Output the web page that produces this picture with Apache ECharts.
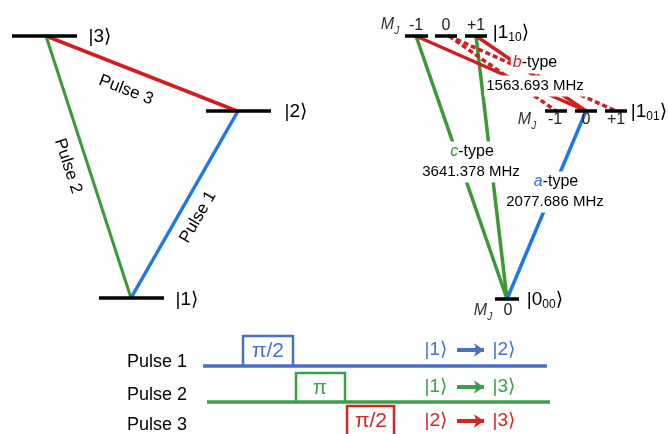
<!DOCTYPE html>
<html>
<head>
<meta charset="utf-8">
<script src="https://cdn.jsdelivr.net/npm/echarts@6/dist/echarts.min.js"></script>
<style>
  html, body { margin: 0; padding: 0; background: #fff; }
  #chart { width: 668px; height: 434px; }
</style>
</head>
<body>
<div id="chart"></div>
<script>
// Scheme coordinates: x grows right, y grows down.

// Three-level scheme (left): energy bars [xStart, xEnd, y]
const threeLevelBars = [[12, 77, 36], [206, 271, 111], [99, 164, 298]];
// Pulse transitions between the levels: [x1, y1, x2, y2]
const pulse3Link = [46, 36, 237, 111];
const pulse2Link = [46, 36, 131, 298];
const pulse1Link = [131, 298, 238, 111];

// Rotational levels (right) with M_J sublevels
const upperBars = [[405, 428, 36], [435, 457, 36], [465, 487, 36]];   // |1_10>, MJ = -1, 0, +1
const lowerBars = [[545, 567, 111], [575, 597, 111], [605, 627, 111]]; // |1_01>, MJ = -1, 0, +1
const groundBars = [[495, 519, 299]];                                  // |0_00>, MJ = 0
const cTypeLinks = [[507, 299, 416, 36], [507, 299, 476, 36]];
const aTypeLinks = [[507, 299, 586, 111]];
const bTypeSolid = [[416, 36, 586, 111], [476, 36, 586, 111]];
const bTypeDashed = [[449, 36, 556, 111], [449, 36, 616, 111]];

// Pulse sequence (bottom)
const pulse1Base = [[203, 366], [547, 366]];
const pulse2Base = [[207, 402], [550, 402]];
const pulse1Box = [[243, 366], [243, 336], [293, 336], [293, 366]];
const pulse2Box = [[296, 402], [296, 373], [345, 373], [345, 402]];
const pulse3Box = [[347, 434], [347, 406], [394, 406], [394, 434]];
const arrows = [[457, 350, 484, 350], [457, 387, 484, 387], [457, 421, 484, 421]];

// Text items: [x, y, rich text, rotation]
const textItems = [
  [100, 37, '{k|\u007C3\u27E9}', 0],
  [296, 112, '{k|\u007C2\u27E9}', 0],
  [187, 300, '{k|\u007C1\u27E9}', 0],
  [126, 90, '{p|Pulse 3}', -21],
  [68, 166, '{p|Pulse 2}', -72],
  [198, 217, '{p|Pulse 1}', 60],

  [390, 25, '{m|M}{mj|J}', 0],
  [416, 26, '{n|-1}', 0],
  [446, 26, '{n|0}', 0],
  [476, 26, '{n|+1}', 0],
  [511, 33, '{k|\u007C1}{ks|10}{k|\u27E9}', 0],
  [527, 120, '{m|M}{mj|J}', 0],
  [555, 120, '{n|-1}', 0],
  [586, 120, '{n|0}', 0],
  [616, 120, '{n|+1}', 0],
  [649, 112, '{k|\u007C1}{ks|01}{k|\u27E9}', 0],
  [483, 311, '{m|M}{mj|J}', 0],
  [508, 311, '{n|0}', 0],
  [545, 300, '{k|\u007C0}{ks|00}{k|\u27E9}', 0],

  [535, 63, '{bi|b}{t|-type}', 0],
  [535, 86, '{f|1563.693 MHz}', 0],
  [472, 152, '{ci|c}{t|-type}', 0],
  [471, 172, '{f|3641.378 MHz}', 0],
  [556, 182, '{ai|a}{t|-type}', 0],
  [555, 202, '{f|2077.686 MHz}', 0],

  [157, 362, '{pl|Pulse 1}', 0],
  [157, 395, '{pl|Pulse 2}', 0],
  [157, 425, '{pl|Pulse 3}', 0],
  [268, 351, '{pb|\u03C0/2}', 0],
  [320, 388, '{pg|\u03C0}', 0],
  [371, 421, '{pr|\u03C0/2}', 0],
  [436, 350, '{kb|\u007C1\u27E9}', 0],
  [504, 350, '{kb|\u007C2\u27E9}', 0],
  [436, 387, '{kg|\u007C1\u27E9}', 0],
  [504, 387, '{kg|\u007C3\u27E9}', 0],
  [436, 421, '{kr|\u007C2\u27E9}', 0],
  [504, 421, '{kr|\u007C3\u27E9}', 0]
];

const RED = '#d01f1f', GREEN = '#3a9b35', BLUE = '#1f78e3';
const SEQ_BLUE = '#4472c4', SEQ_GREEN = '#3aa14a', SEQ_RED = '#d42424';
const FONT = "'Liberation Sans', Arial, 'DejaVu Sans', sans-serif";

const seg = (s, color, width, type) => ({
  coords: [[s[0], s[1]], [s[2], s[3]]],
  lineStyle: { color, width, type: type || 'solid', opacity: 1 }
});
const bar = b => seg([b[0], b[2], b[1], b[2]], '#000', 3.5);

const rich = {
  k: { fontSize: 19, color: '#000', lineHeight: 22 },
  ks: { fontSize: 12, color: '#000', lineHeight: 18, verticalAlign: 'bottom' },
  p: { fontSize: 17, color: '#000' },
  pl: { fontSize: 18, color: '#000' },
  m: { fontSize: 16, fontStyle: 'italic', color: '#333', lineHeight: 22 },
  mj: { fontSize: 10, fontStyle: 'italic', color: '#333', lineHeight: 10, verticalAlign: 'bottom' },
  n: { fontSize: 16, color: '#222' },
  f: { fontSize: 15, color: '#000', lineHeight: 19 },
  t: { fontSize: 16, color: '#000', lineHeight: 19 },
  bi: { fontSize: 16, fontStyle: 'italic', color: RED, lineHeight: 19 },
  ci: { fontSize: 16, fontStyle: 'italic', color: GREEN, lineHeight: 19 },
  ai: { fontSize: 16, fontStyle: 'italic', color: BLUE, lineHeight: 19 },
  pb: { fontSize: 21, color: SEQ_BLUE },
  pg: { fontSize: 20, color: SEQ_GREEN },
  pr: { fontSize: 21, color: SEQ_RED },
  kb: { fontSize: 19, color: SEQ_BLUE },
  kg: { fontSize: 19, color: SEQ_GREEN },
  kr: { fontSize: 19, color: SEQ_RED }
};
Object.values(rich).forEach(r => { r.fontFamily = FONT; });

// Labels that sit on a white plate over the transition lines
const plated = s => /MHz|-type/.test(s);

const transitions = [
  seg(pulse3Link, RED, 3.5),
  seg(pulse2Link, GREEN, 3),
  seg(pulse1Link, BLUE, 3.5),
  ...cTypeLinks.map(s => seg(s, GREEN, 3.5)),
  ...aTypeLinks.map(s => seg(s, BLUE, 3.5)),
  ...bTypeSolid.map(s => seg(s, RED, 3.5)),
  ...bTypeDashed.map(s => seg(s, RED, 3.5, [5, 3]))
];

const bars = [...threeLevelBars, ...upperBars, ...lowerBars, ...groundBars].map(bar);

const sequence = [
  { coords: pulse1Base, lineStyle: { color: SEQ_BLUE, width: 3.5, opacity: 1 } },
  { coords: pulse2Base, lineStyle: { color: SEQ_GREEN, width: 3.5, opacity: 1 } },
  { coords: pulse1Box, lineStyle: { color: SEQ_BLUE, width: 2.5, opacity: 1 } },
  { coords: pulse2Box, lineStyle: { color: SEQ_GREEN, width: 2.5, opacity: 1 } },
  { coords: pulse3Box, lineStyle: { color: SEQ_RED, width: 2.5, opacity: 1 } }
];

const arrowColors = [SEQ_BLUE, SEQ_GREEN, SEQ_RED];
const arrowData = arrows.map((a, i) => seg(a, arrowColors[i], 4));

const chart = echarts.init(document.getElementById('chart'), null, { renderer: 'canvas' });
chart.setOption({
  animation: false,
  backgroundColor: '#fff',
  grid: { left: 0, right: 0, top: 0, bottom: 0 },
  xAxis: { type: 'value', min: 0, max: 668, show: false },
  yAxis: { type: 'value', min: 0, max: 434, inverse: true, show: false },
  series: [
    { type: 'lines', coordinateSystem: 'cartesian2d', polyline: false, z: 2,
      silent: true, lineStyle: { opacity: 1 }, data: transitions },
    { type: 'lines', coordinateSystem: 'cartesian2d', polyline: false, z: 3,
      silent: true, lineStyle: { opacity: 1 }, data: bars },
    { type: 'lines', coordinateSystem: 'cartesian2d', polyline: true, z: 3,
      silent: true, lineStyle: { opacity: 1 }, data: sequence },
    { type: 'lines', coordinateSystem: 'cartesian2d', polyline: false, z: 3,
      silent: true, lineStyle: { opacity: 1 },
      symbol: ['none', 'arrow'], symbolSize: [0, 10], data: arrowData },
    { type: 'scatter', zlevel: 1, z: 6, silent: true, symbolSize: 1,
      itemStyle: { color: '#fff', opacity: 1 },
      data: textItems.map(t => ({
        value: [t[0], t[1]],
        label: {
          show: true, position: 'inside', formatter: t[2], rotate: t[3],
          align: 'center', verticalAlign: 'middle', rich,
          fontFamily: FONT, color: '#000', opacity: 1,
          backgroundColor: plated(t[2]) ? '#ffffff' : 'transparent',
          padding: plated(t[2]) ? [1, 2] : 0
        }
      }))
    }
  ]
});
</script>
</body>
</html>
